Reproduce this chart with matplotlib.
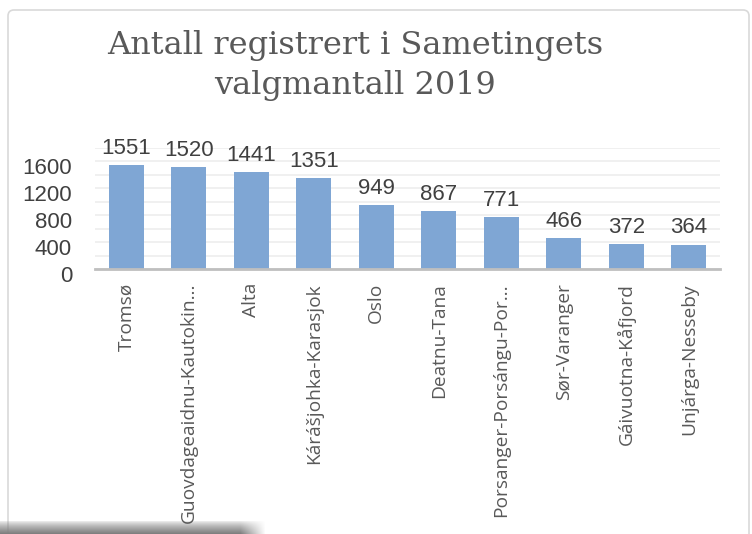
import numpy as np
import matplotlib.pyplot as plt
import matplotlib.transforms as mtransforms
from matplotlib.patches import FancyBboxPatch

kommuner = ["Tromsø", "Guovdageaidnu-Kautokin…", "Alta", "Kárášjohka-Karasjok",
            "Oslo", "Deatnu-Tana", "Porsanger-Porsángu-Por…", "Sør-Varanger",
            "Gáivuotna-Kåfjord", "Unjárga-Nesseby"]
antall = [1551, 1520, 1441, 1351, 949, 867, 771, 466, 372, 364]
yticks = [0, 400, 800, 1200, 1600]

W, H = 752, 534
fig = plt.figure(figsize=(W / 100, H / 100), dpi=100)

# bakgrunn: ramme og skygge
bg = fig.add_axes([0, 0, 1, 1], zorder=0)
bg.set_xlim(0, W)
bg.set_ylim(H, 0)
bg.axis("off")
bg.add_patch(FancyBboxPatch((8, 10), 741, 560, boxstyle="round,pad=0,rounding_size=6",
                            fc="white", ec="#d9d9d9", lw=1.2, zorder=1))
grad = np.linspace(0, 1, 14)[:, None] ** 0.7 * np.ones((1, 265))
fade = np.clip((265 - np.arange(265)) / 25, 0, 1)[None, :]
shadow = np.zeros((14, 265, 4))
shadow[..., :3] = 0.5
shadow[..., 3] = grad * fade
bg.imshow(shadow, extent=(0, 265, 534, 520), aspect="auto",
          interpolation="bilinear", zorder=3)
bg.set_xlim(0, W)
bg.set_ylim(H, 0)

ax = fig.add_axes([95 / W, (H - 269) / H, 625 / W, (269 - 148) / H], zorder=1)
ax.patch.set_alpha(0)
x = np.arange(len(kommuner))
ax.bar(x, antall, width=0.56, color="#7fa6d4", zorder=2)
ax.set_xlim(-0.5, len(kommuner) - 0.5)
ax.set_ylim(0, 1800)
ax.set_yticks(yticks)
ax.set_yticks(np.arange(0, 1801, 200), minor=True)
ax.grid(axis="y", which="both", color="#ededed", lw=1.2, zorder=0)
for s in ["top", "right", "left"]:
    ax.spines[s].set_visible(False)
ax.spines["bottom"].set_color("#bfbfbf")
ax.spines["bottom"].set_linewidth(2)
ax.tick_params(axis="both", which="both", length=0)
ax.tick_params(axis="y", pad=16.5)
ax.set_yticklabels([str(v) for v in yticks], fontsize=16, color="#404040",
                   family="Liberation Sans")
shift = mtransforms.ScaledTranslation(0, -5 / 100, fig.dpi_scale_trans)
for lab in ax.get_yticklabels():
    lab.set_transform(lab.get_transform() + shift)
ax.set_xticks(x)
ax.set_xticklabels(kommuner, rotation=90, fontsize=13.8, color="#595959",
                   family="Open Sans", va="top")
ax.tick_params(axis="x", pad=10)
for xi, v in zip(x, antall):
    ax.text(xi, v + 90, str(v), ha="center", va="bottom", fontsize=16,
            color="#404040", family="Liberation Sans")

fig.text(355 / W, 1 - 54 / H, "Antall registrert i Sametingets",
         ha="center", va="baseline", fontsize=23, color="#595959", family="DejaVu Serif")
fig.text(355 / W, 1 - 94 / H, "valgmantall 2019",
         ha="center", va="baseline", fontsize=23, color="#595959", family="DejaVu Serif")

fig.savefig("out.png", dpi=100)
